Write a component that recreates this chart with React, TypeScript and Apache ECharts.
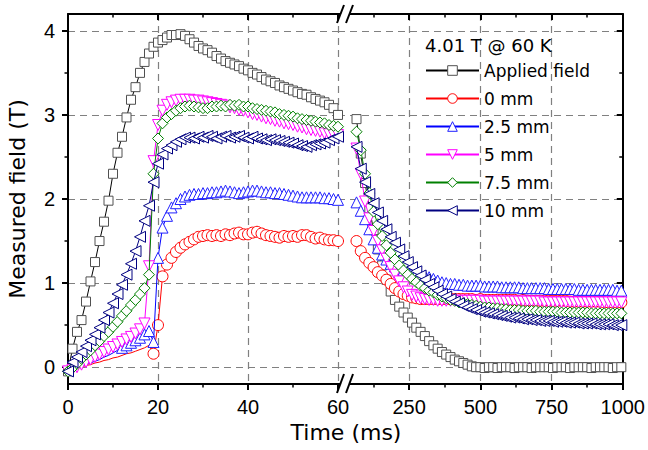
import React, { useEffect, useRef } from "react";
import * as echarts from "echarts";

const FONT = "Arial, 'Liberation Sans', sans-serif";
const TEXT_FONT = "'DejaVu Sans', Arial, sans-serif";

const seriesNames = ["Applied field", "0 mm", "2.5 mm", "5 mm", "7.5 mm", "10 mm"];
const seriesColors = ["#000000", "#ff0000", "#0000ff", "#ff00ff", "#008000", "#000080"];
const markerColors = ["#505050", "#ff0000", "#2020ff", "#ff00ff", "#008000", "#000080"];
const yTicks = [0, 1, 2, 3, 4];
const yMinorTicks = [0.5, 1.5, 2.5, 3.5];

// Left segment (0-60 ms)
const leftTime = [0,1,2,3,4,5,6,7,8,9,10,11,12,13,14,15,16,17,18,19,20,21,22,23,24,25,26,27,28,29,30,31,32,33,34,35,36,37,38,39,40,41,42,43,44,45,46,47,48,49,50,51,52,53,54,55,56,57,58,59,60];
const appliedLeft = [-0.05,0.22,0.42,0.56,0.78,1.02,1.25,1.5,1.73,1.98,2.3,2.55,2.74,2.97,3.18,3.33,3.5,3.63,3.73,3.81,3.86,3.89,3.92,3.95,3.95,3.96,3.94,3.9,3.86,3.82,3.79,3.77,3.74,3.7,3.67,3.64,3.62,3.6,3.58,3.55,3.53,3.5,3.48,3.45,3.42,3.4,3.38,3.35,3.33,3.31,3.29,3.27,3.25,3.24,3.21,3.19,3.17,3.15,3.12,3.08,3.0];
const mm0Left = [-0.05,-0.03,-0.01,0.0,0.02,0.03,0.05,0.06,0.08,0.09,0.11,0.12,0.14,0.16,0.17,0.19,0.21,0.23,0.26,0.16,0.5,1.08,1.22,1.3,1.37,1.42,1.46,1.49,1.52,1.55,1.56,1.57,1.56,1.57,1.56,1.58,1.57,1.59,1.6,1.58,1.58,1.6,1.61,1.59,1.57,1.56,1.55,1.54,1.56,1.55,1.56,1.55,1.57,1.57,1.55,1.53,1.54,1.52,1.51,1.51,1.5];
const mm25Left = [-0.05,-0.03,-0.01,0.01,0.03,0.05,0.07,0.09,0.12,0.14,0.17,0.2,0.23,0.26,0.29,0.32,0.35,0.39,0.43,0.3,1.3,1.66,1.8,1.9,1.95,2.0,2.03,2.05,2.06,2.06,2.07,2.07,2.08,2.08,2.09,2.1,2.09,2.08,2.07,2.08,2.09,2.1,2.1,2.09,2.08,2.08,2.07,2.07,2.06,2.05,2.04,2.03,2.02,2.02,2.02,2.02,2.02,2.01,2.01,2.0,1.99];
const mm5Left = [-0.05,-0.03,0.0,0.03,0.06,0.09,0.12,0.15,0.18,0.21,0.24,0.27,0.3,0.33,0.36,0.4,0.45,0.52,1.2,2.45,2.88,3.05,3.12,3.15,3.17,3.18,3.18,3.18,3.17,3.17,3.16,3.15,3.14,3.13,3.12,3.11,3.09,3.08,3.06,3.05,3.03,3.01,3.0,2.98,2.96,2.95,2.93,2.92,2.9,2.89,2.88,2.86,2.85,2.83,2.82,2.81,2.8,2.78,2.77,2.76,2.76];
const mm75Left = [-0.05,-0.01,0.04,0.1,0.15,0.2,0.26,0.31,0.37,0.42,0.48,0.54,0.61,0.67,0.74,0.8,0.87,0.94,1.1,2.3,2.72,2.9,2.97,3.01,3.05,3.08,3.1,3.11,3.1,3.09,3.08,3.08,3.1,3.1,3.11,3.1,3.12,3.11,3.12,3.1,3.1,3.08,3.07,3.06,3.05,3.04,3.03,3.01,3.0,2.99,2.98,2.96,2.95,2.94,2.93,2.92,2.91,2.9,2.88,2.87,2.86];
const mm10Left = [-0.05,0.06,0.12,0.18,0.25,0.32,0.39,0.47,0.56,0.65,0.76,0.87,0.98,1.1,1.23,1.38,1.55,1.74,1.92,2.2,2.42,2.53,2.6,2.64,2.68,2.71,2.73,2.73,2.72,2.74,2.73,2.75,2.74,2.72,2.74,2.75,2.73,2.74,2.75,2.73,2.72,2.74,2.72,2.71,2.7,2.71,2.7,2.69,2.68,2.67,2.66,2.64,2.63,2.62,2.64,2.65,2.66,2.67,2.7,2.72,2.74];

// Right segment (after the axis break)
const rightTime = [65,80,95,110,125,140,155,170,185,200,215,230,245,260,275,290,305,320,335,350,365,380,395,410,425,440,455,470,485,500,515,530,545,560,575,590,605,620,635,650,665,680,695,710,725,740,755,770,785,800,815,830,845,860,875,890,905,920,935,950,965,980,995];
const appliedRight = [2.95,2.54,2.19,1.89,1.63,1.4,1.21,1.04,0.9,0.8,0.72,0.65,0.59,0.53,0.47,0.42,0.37,0.31,0.26,0.22,0.18,0.15,0.12,0.09,0.07,0.05,0.03,0.01,0.0,0.0,-0.01,0.0,0.0,-0.01,0.0,0.0,0.0,-0.01,0.0,0.0,0.0,-0.01,0.0,0.0,0.0,0.0,-0.01,0.0,0.0,0.0,-0.01,0.0,0.0,0.0,0.0,-0.01,0.0,0.0,0.0,0.0,-0.01,0.0,0.0];
const mm0Right = [1.5,1.38,1.3,1.24,1.19,1.13,1.09,1.04,0.99,0.94,0.9,0.87,0.85,0.83,0.82,0.81,0.81,0.81,0.81,0.81,0.81,0.81,0.81,0.81,0.81,0.81,0.81,0.81,0.8,0.81,0.8,0.8,0.8,0.8,0.8,0.8,0.8,0.8,0.79,0.8,0.79,0.79,0.79,0.79,0.79,0.79,0.79,0.79,0.79,0.79,0.78,0.78,0.78,0.78,0.78,0.78,0.78,0.78,0.77,0.77,0.77,0.77,0.77];
const mm25Right = [1.96,1.86,1.76,1.64,1.52,1.42,1.34,1.28,1.23,1.2,1.17,1.15,1.14,1.13,1.12,1.1,1.09,1.07,1.05,1.03,1.01,1.0,0.99,0.99,0.98,0.98,0.97,0.97,0.97,0.97,0.96,0.96,0.96,0.96,0.95,0.95,0.95,0.95,0.95,0.94,0.94,0.94,0.94,0.94,0.94,0.93,0.93,0.93,0.93,0.93,0.93,0.93,0.92,0.92,0.92,0.92,0.92,0.92,0.92,0.92,0.92,0.91,0.91];
const mm5Right = [2.6,2.3,1.97,1.77,1.62,1.5,1.39,1.29,1.19,1.1,1.02,0.95,0.9,0.86,0.84,0.82,0.81,0.8,0.8,0.79,0.79,0.79,0.79,0.79,0.79,0.79,0.79,0.79,0.79,0.79,0.78,0.78,0.78,0.78,0.78,0.78,0.78,0.78,0.78,0.78,0.78,0.78,0.78,0.78,0.77,0.77,0.77,0.77,0.77,0.77,0.77,0.77,0.77,0.77,0.77,0.77,0.77,0.77,0.77,0.77,0.77,0.77,0.77];
const mm75Right = [2.8,2.58,2.3,2.07,1.85,1.7,1.56,1.45,1.36,1.28,1.21,1.15,1.1,1.05,1.01,0.97,0.94,0.91,0.89,0.86,0.84,0.82,0.8,0.79,0.77,0.76,0.75,0.74,0.73,0.72,0.71,0.71,0.7,0.7,0.69,0.69,0.68,0.68,0.68,0.67,0.67,0.67,0.67,0.66,0.66,0.66,0.66,0.66,0.65,0.65,0.65,0.65,0.65,0.65,0.65,0.64,0.64,0.64,0.64,0.64,0.64,0.64,0.64];
const mm10Right = [2.62,2.36,2.2,2.06,1.95,1.84,1.74,1.64,1.55,1.48,1.4,1.32,1.25,1.19,1.14,1.09,1.04,0.99,0.95,0.91,0.87,0.84,0.81,0.78,0.76,0.73,0.71,0.69,0.68,0.66,0.65,0.64,0.63,0.62,0.61,0.6,0.59,0.59,0.58,0.57,0.57,0.56,0.56,0.55,0.55,0.55,0.54,0.54,0.54,0.53,0.53,0.53,0.52,0.52,0.52,0.52,0.51,0.51,0.51,0.51,0.5,0.5,0.5];

const leftValues = [appliedLeft, mm0Left, mm25Left, mm5Left, mm75Left, mm10Left];
const rightValues = [appliedRight, mm0Right, mm25Right, mm5Right, mm75Right, mm10Right];

const symbols = ["rect", "circle", "triangle", "triangle", "diamond", "triangle"];
const symbolRotations = [0, 0, 0, 180, 0, 90];
const symbolSizes = [9, 11, 11, 11, 11, 11];

export default function App() {
  const ref = useRef<HTMLDivElement>(null);

  useEffect(() => {
    if (!ref.current) return;
    const chart = echarts.init(ref.current, null, { renderer: "svg" });

    const gridLine = { show: true, lineStyle: { color: "#808080", type: [7, 5] as any, width: 1.2 } };
    const axisLineStyle = { onZero: false, lineStyle: { color: "#000", width: 2 } };
    const tickStyle = { color: "#000", width: 2 };
    const minorStyle = { color: "#000", width: 1.5 };
    const labelStyle = { fontSize: 20, color: "#000", fontFamily: FONT };

    const xAxis: any[] = [
      {
        gridIndex: 0, type: "value", min: 0, max: 60, interval: 20, position: "bottom",
        axisLine: axisLineStyle,
        axisTick: { length: 6, lineStyle: tickStyle },
        minorTick: { show: true, splitNumber: 2, length: 3.5, lineStyle: minorStyle },
        axisLabel: { ...labelStyle, margin: 13 },
        splitLine: { ...gridLine, showMinLine: false },
      },
      {
        gridIndex: 0, type: "value", min: 0, max: 60, interval: 20, position: "top",
        axisLine: axisLineStyle,
        axisTick: { inside: true, length: 6, lineStyle: tickStyle },
        minorTick: { show: true, splitNumber: 2, length: 3.5, lineStyle: minorStyle },
        axisLabel: { show: false },
        splitLine: { show: false },
      },
      {
        gridIndex: 1, type: "value", min: 0, max: 1000, interval: 250, position: "bottom",
        axisLine: axisLineStyle,
        axisTick: { length: 6, lineStyle: tickStyle },
        minorTick: { show: true, splitNumber: 2, length: 3.5, lineStyle: minorStyle },
        axisLabel: { ...labelStyle, margin: 13, formatter: (v: number) => (v === 0 ? "" : String(v)) },
        splitLine: { ...gridLine, showMinLine: false, showMaxLine: false },
      },
      {
        gridIndex: 1, type: "value", min: 0, max: 1000, interval: 250, position: "top",
        axisLine: axisLineStyle,
        axisTick: { inside: true, length: 6, lineStyle: tickStyle },
        minorTick: { show: true, splitNumber: 2, length: 3.5, lineStyle: minorStyle },
        axisLabel: { show: false },
        splitLine: { show: false },
      },
    ];

    const yAxis: any[] = [
      {
        gridIndex: 0, type: "value", min: -0.2, max: 4.2, position: "left",
        axisLine: axisLineStyle,
        axisTick: { customValues: yTicks, length: 6, lineStyle: tickStyle },
        axisLabel: { ...labelStyle, customValues: yTicks, margin: 13 },
        splitLine: gridLine,
        name: "Measured field (T)", nameLocation: "middle", nameGap: 40,
        nameTextStyle: { fontSize: 22, color: "#000", fontFamily: TEXT_FONT },
      },
      {
        gridIndex: 0, type: "value", min: -0.2, max: 4.2, position: "left",
        axisLine: { show: false, onZero: false },
        axisTick: { customValues: yMinorTicks, length: 3.5, lineStyle: minorStyle },
        axisLabel: { show: false },
        splitLine: { show: false },
      },
      {
        gridIndex: 1, type: "value", min: -0.2, max: 4.2, position: "right",
        axisLine: axisLineStyle,
        axisTick: { customValues: yTicks, inside: true, length: 6, lineStyle: tickStyle },
        axisLabel: { show: false, customValues: yTicks },
        splitLine: gridLine,
      },
      {
        gridIndex: 1, type: "value", min: -0.2, max: 4.2, position: "right",
        axisLine: { show: false, onZero: false },
        axisTick: { customValues: yMinorTicks, inside: true, length: 3.5, lineStyle: minorStyle },
        axisLabel: { show: false },
        splitLine: { show: false },
      },
    ];

    const series: any[] = [];
    seriesNames.forEach((name, i) => {
      const common = {
        type: "line", name,
        symbol: symbols[i],
        symbolRotate: symbolRotations[i],
        lineStyle: { color: seriesColors[i], width: 1 },
        itemStyle: { color: "#ffffff", borderColor: markerColors[i], borderWidth: 1 },
        emphasis: { disabled: true },
        z: 2 + i,
      };
      let leftSize: any = symbolSizes[i];
      if (i === 1) leftSize = (val: number[]) => (val[0] < 18.5 ? 0 : symbolSizes[i]);
      if (i === 2) leftSize = (val: number[]) => (val[0] < 11.5 ? 0 : symbolSizes[i]);
      series.push({
        ...common, xAxisIndex: 0, yAxisIndex: 0, symbolSize: leftSize,
        data: leftTime.map((t, k) => [t, leftValues[i][k]]),
      });
      series.push({
        ...common, xAxisIndex: 2, yAxisIndex: 2, symbolSize: symbolSizes[i],
        data: rightTime.map((t, k) => [t, rightValues[i][k]]),
      });
    });

    const slash = (x1: number, y1: number, x2: number, y2: number) => ({
      type: "line", z: 100, shape: { x1, y1, x2, y2 }, style: { stroke: "#000", lineWidth: 2 },
    });

    chart.setOption({
      animation: false,
      backgroundColor: "#fff",
      textStyle: { fontFamily: FONT },
      grid: [
        { left: 68, top: 14, width: 270, height: 370 },
        { left: 338, top: 14, width: 285, height: 370 },
      ],
      xAxis, yAxis, series,
      legend: {
        data: seriesNames, orient: "vertical", left: 420, top: 57,
        itemWidth: 53, itemHeight: 12, itemGap: 11,
        textStyle: { fontSize: 17, color: "#000", fontFamily: TEXT_FONT },
        itemStyle: { borderWidth: 1 },
        selectedMode: false,
      },
      graphic: [
        { type: "text", z: 100, x: 425, y: 45, style: { text: "4.01 T @ 60 K", fontSize: 18, fontFamily: TEXT_FONT, fill: "#000", verticalAlign: "middle" } },
        { type: "text", z: 100, x: 346, y: 432, style: { text: "Time (ms)", fontSize: 22, fontFamily: TEXT_FONT, fill: "#000", align: "center", verticalAlign: "middle" } },
        { type: "polygon", z: 99, shape: { points: [[338, 393], [344, 374], [353, 374], [347, 393]] }, style: { fill: "#fff" } },
        slash(337, 393, 344, 374),
        slash(346, 393, 353, 374),
        { type: "polygon", z: 99, shape: { points: [[338, 23], [344, 5], [353, 5], [347, 23]] }, style: { fill: "#fff" } },
        slash(337, 23, 344, 5),
        slash(346, 23, 353, 5),
      ],
    });

    return () => chart.dispose();
  }, []);

  return <div ref={ref} style={{ position: "fixed", left: 0, top: 0, width: 648, height: 450 }} />;
}
